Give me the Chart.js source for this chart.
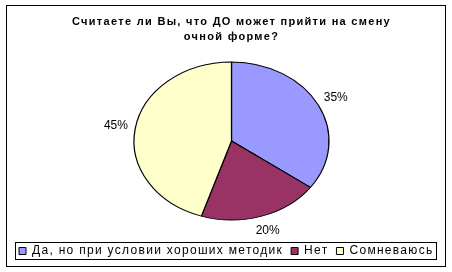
<!DOCTYPE html>
<html>
<head>
<meta charset="utf-8">
<script src="https://cdn.jsdelivr.net/npm/chart.js@4/dist/chart.umd.min.js"></script>
<style>
  html, body { margin: 0; padding: 0; background: #fff; }
</style>
</head>
<body>
<canvas id="pieChart" width="452" height="272"></canvas>
<script>
const titleLines = ['Считаете ли Вы, что ДО может прийти на смену', 'очной форме?'];
const categories = ['Да, но при условии хороших методик', 'Нет', 'Сомневаюсь'];
const shares = [35, 20, 45];
const sliceColors = ['#9999FF', '#993366', '#FFFFCC'];

// Excel squashes its pie into an ellipse, so stretch the drawn circle sideways
const stretchX = 1.234;

function setSpacing(chart) {
  chart.ctx.letterSpacing = '1.3px';
}

const excelLook = {
  id: 'excelLook',
  beforeLayout(chart) { setSpacing(chart); },
  beforeDraw(chart) {
    setSpacing(chart);
    const ctx = chart.ctx;
    ctx.save();
    ctx.fillStyle = '#fff';
    ctx.fillRect(0, 0, chart.width, chart.height);
    ctx.restore();
  },
  beforeDatasetsDraw(chart) {
    const arc = chart.getDatasetMeta(0).data[0];
    const ctx = chart.ctx;
    ctx.save();
    ctx.translate(arc.x, arc.y);
    ctx.scale(stretchX, 1);
    ctx.translate(-arc.x, -arc.y);
  },
  afterDatasetsDraw(chart) {
    const ctx = chart.ctx;
    ctx.restore();

    // percentage labels outside the slices
    const total = shares.reduce((a, b) => a + b, 0);
    ctx.save();
    ctx.letterSpacing = '0px';
    ctx.font = '12px "Liberation Sans", Arial, sans-serif';
    ctx.fillStyle = '#000';
    ctx.textAlign = 'center';
    ctx.textBaseline = 'middle';
    chart.getDatasetMeta(0).data.forEach((arc, i) => {
      const mid = (arc.startAngle + arc.endAngle) / 2;
      const r = arc.outerRadius * 1.2;
      const x = arc.x + Math.cos(mid) * r * stretchX;
      const y = arc.y + Math.sin(mid) * r;
      ctx.fillText(Math.round(shares[i] / total * 100) + '%', x, y);
    });
    ctx.restore();
  },
  afterDraw(chart) {
    const ctx = chart.ctx;
    const boxes = chart.legend.legendHitBoxes;
    const first = boxes[0];
    const last = boxes[boxes.length - 1];
    const midY = first.top + first.height / 2;
    ctx.save();
    ctx.strokeStyle = '#000';
    ctx.lineWidth = 1;
    ctx.strokeRect(Math.round(first.left - 4) + 0.5, Math.round(midY - 9) + 0.5,
      Math.round(last.left + last.width + 3 - (first.left - 4)), 17);
    ctx.strokeRect(6.5, 5.5, 439, 261);
    ctx.restore();
  }
};

Chart.defaults.font.family = '"Liberation Sans", Arial, sans-serif';
Chart.defaults.color = '#000';

new Chart('pieChart', {
  type: 'pie',
  data: {
    labels: categories,
    datasets: [{
      data: shares,
      backgroundColor: sliceColors,
      borderColor: '#000',
      borderWidth: 1,
      radius: 79,
      clip: false
    }]
  },
  options: {
    responsive: false,
    animation: false,
    layout: { padding: { top: 0, left: 11, right: 0, bottom: 5 } },
    plugins: {
      title: {
        display: true,
        text: titleLines,
        font: { size: 11, weight: 'bold', lineHeight: 1.41 },
        padding: { top: 14, bottom: 0 }
      },
      legend: {
        position: 'bottom',
        align: 'start',
        labels: {
          boxWidth: 7,
          boxHeight: 7,
          padding: 8,
          font: { size: 12 }
        }
      },
      tooltip: { enabled: false }
    }
  },
  plugins: [excelLook]
});
</script>
</body>
</html>
